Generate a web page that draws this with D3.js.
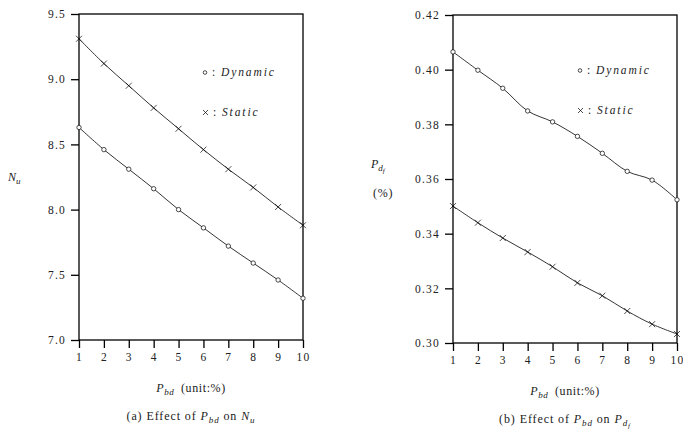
<!DOCTYPE html>
<html>
<head>
<meta charset="utf-8">
<script src="https://cdn.jsdelivr.net/npm/d3@7/dist/d3.min.js"></script>
<style>
  html, body { margin: 0; padding: 0; background: #fff; }
  svg text { font-family: "Liberation Serif", "DejaVu Serif", serif; fill: #222; font-weight: normal; }
</style>
</head>
<body>
<svg id="chart" width="683" height="433"></svg>
<script>
// P_bd values (unit: %)
const pbd = [1, 2, 3, 4, 5, 6, 7, 8, 9, 10];

// Panel (a): N_u
const nuDynamic = [8.63, 8.46, 8.31, 8.16, 8.00, 7.86, 7.72, 7.59, 7.46, 7.32];
const nuStatic  = [9.31, 9.12, 8.95, 8.78, 8.62, 8.46, 8.31, 8.17, 8.02, 7.88];
const nuTicks   = [7.0, 7.5, 8.0, 8.5, 9.0, 9.5];

// Panel (b): P_df (%)
const pdfDynamic = [0.4065, 0.3998, 0.3932, 0.3849, 0.3809, 0.3756, 0.3694, 0.3628, 0.3596, 0.3524];
const pdfStatic  = [0.3501, 0.3440, 0.3384, 0.3333, 0.3279, 0.3220, 0.3173, 0.3117, 0.3069, 0.3033];
const pdfTicks   = [0.30, 0.32, 0.34, 0.36, 0.38, 0.40, 0.42];

const xTicks = pbd;

const svg = d3.select("#chart");
const FONT = "Liberation Serif, DejaVu Serif, serif";

function styleTicks(sel) {
  sel.selectAll("line").attr("stroke", "#000").attr("stroke-width", 1.3);
  sel.selectAll("text")
    .attr("font-family", FONT).attr("font-size", 11.5)
    .style("letter-spacing", "1.2px").attr("fill", "#222");
}

function sub(t, s, size, dy) {
  t.append("tspan").attr("font-style", "italic").attr("dy", dy).style("font-size", size + "px").text(s);
}

function panel(opts) {
  const g = svg.append("g");
  const x = d3.scaleLinear().domain([1, 10]).range([opts.x0, opts.x1]);
  const y = d3.scaleLinear().domain(opts.yDomain).range([opts.y0, opts.y1]);

  // frame
  g.append("rect")
    .attr("x", opts.x0).attr("y", opts.y1)
    .attr("width", opts.x1 - opts.x0).attr("height", opts.y0 - opts.y1)
    .attr("fill", "none").attr("stroke", "#000").attr("stroke-width", 1.3);

  // y axis
  const yAxis = d3.axisLeft(y).tickValues(opts.yTicks).tickFormat(d3.format(opts.yFmt))
    .tickSize(8).tickPadding(5);
  const ya = g.append("g").attr("transform", `translate(${opts.x0},0)`).call(yAxis);
  ya.select(".domain").remove();
  styleTicks(ya);

  // x axis
  const xAxis = d3.axisBottom(x).tickValues(xTicks).tickFormat(d3.format("d"))
    .tickSize(8).tickPadding(5);
  const xa = g.append("g").attr("transform", `translate(0,${opts.y0})`).call(xAxis);
  xa.select(".domain").remove();
  styleTicks(xa);

  const line = d3.line()
    .x((d, i) => x(pbd[i]))
    .y(d => y(d))
    .curve(d3.curveCatmullRom.alpha(0.5));

  [opts.dyn, opts.stat].forEach(series => {
    g.append("path").attr("d", line(series))
      .attr("fill", "none").attr("stroke", "#000").attr("stroke-width", 0.8);
  });

  // circle markers (Dynamic)
  g.selectAll(null).data(opts.dyn).enter().append("circle")
    .attr("cx", (d, i) => x(pbd[i])).attr("cy", d => y(d)).attr("r", 2.2)
    .attr("fill", "#fff").attr("stroke", "#000").attr("stroke-width", 0.7);

  // cross markers (Static)
  const s = 3;
  g.selectAll(null).data(opts.stat).enter().append("path")
    .attr("d", (d, i) => {
      const cx = x(pbd[i]), cy = y(d);
      return `M${cx - s},${cy - s}L${cx + s},${cy + s}M${cx - s},${cy + s}L${cx + s},${cy - s}`;
    })
    .attr("stroke", "#000").attr("stroke-width", 0.7).attr("fill", "none");

  // legend
  const lx = opts.legendX, ly = opts.legendY;
  g.append("circle").attr("cx", lx + 2).attr("cy", ly - 3.5).attr("r", 1.8)
    .attr("fill", "none").attr("stroke", "#000").attr("stroke-width", 0.7);
  const t1 = g.append("text").attr("x", lx + 9).attr("y", ly).style("font-size", "11.5px");
  t1.append("tspan").text(":\u2002");
  t1.append("tspan").attr("font-style", "italic").style("letter-spacing", "1.9px").text("Dynamic");

  const cy2 = ly + 40 - 3.5;
  g.append("path")
    .attr("d", `M${lx},${cy2 - 2.5}L${lx + 5},${cy2 + 2.5}M${lx},${cy2 + 2.5}L${lx + 5},${cy2 - 2.5}`)
    .attr("stroke", "#000").attr("stroke-width", 0.7);
  const t2 = g.append("text").attr("x", lx + 10).attr("y", ly + 40).style("font-size", "11.5px");
  t2.append("tspan").text(":\u2002");
  t2.append("tspan").attr("font-style", "italic").style("letter-spacing", "1.9px").text("Static");

  // x label
  const cx = (opts.x0 + opts.x1) / 2;
  const xl = g.append("text").attr("x", cx).attr("y", opts.y0 + 52)
    .attr("text-anchor", "middle").style("font-size", "12px").style("letter-spacing", "0.6px");
  xl.append("tspan").attr("font-style", "italic").text("P");
  sub(xl, "bd", 9, 3);
  xl.append("tspan").attr("dy", -3).text("\u2002(unit:%)");

  // caption
  const cap = g.append("text").attr("x", cx).attr("y", opts.y0 + 80)
    .attr("text-anchor", "middle").style("font-size", "12px").style("letter-spacing", "0.9px");
  cap.append("tspan").text(`(${opts.tag}) Effect of `);
  cap.append("tspan").attr("font-style", "italic").text("P");
  sub(cap, "bd", 9, 3);
  cap.append("tspan").attr("dy", -3).text(" on ");
  opts.capTarget(cap);

  return g;
}

panel({
  x0: 79, x1: 303, y0: 340, y1: 14,
  yDomain: [7.0, 9.5], yTicks: nuTicks, yFmt: ".1f",
  dyn: nuDynamic, stat: nuStatic,
  legendX: 203, legendY: 76, tag: "a",
  capTarget: t => {
    t.append("tspan").attr("font-style", "italic").text("N");
    sub(t, "u", 9, 3);
  }
});

panel({
  x0: 453, x1: 677, y0: 343, y1: 15,
  yDomain: [0.30, 0.42], yTicks: pdfTicks, yFmt: ".2f",
  dyn: pdfDynamic, stat: pdfStatic,
  legendX: 578, legendY: 74, tag: "b",
  capTarget: t => {
    t.append("tspan").attr("font-style", "italic").text("P");
    sub(t, "d", 9, 3);
    sub(t, "f", 7, 2);
  }
});

// y-axis titles
const yA = svg.append("text").attr("x", 8).attr("y", 181).style("font-size", "12px");
yA.append("tspan").attr("font-style", "italic").text("N");
sub(yA, "u", 9, 3);

const yB = svg.append("text").attr("x", 371).attr("y", 168).style("font-size", "12px");
yB.append("tspan").attr("font-style", "italic").text("P");
sub(yB, "d", 9, 3);
sub(yB, "f", 7, 2);
svg.append("text").attr("x", 373).attr("y", 197).style("font-size", "12px").style("letter-spacing", "0.8px").text("(%)");
</script>
</body>
</html>
